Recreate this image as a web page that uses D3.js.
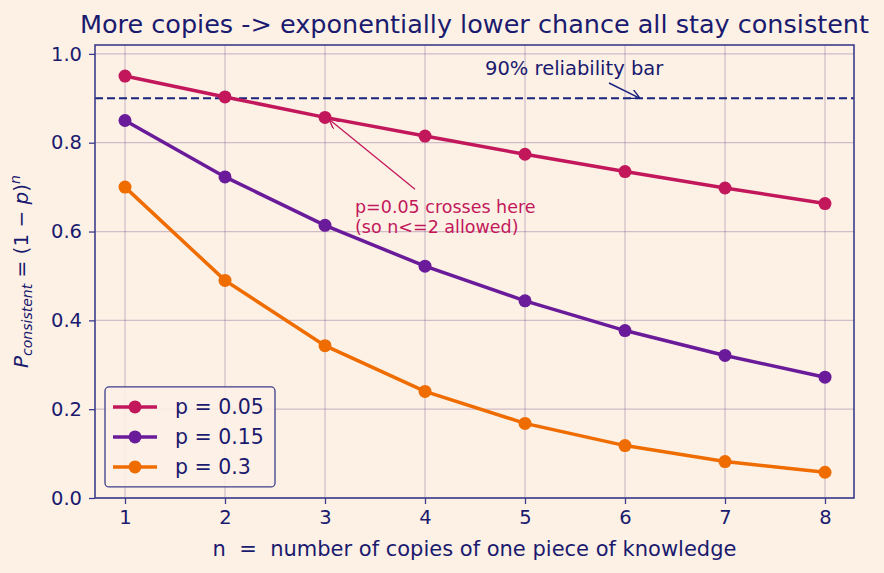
<!DOCTYPE html>
<html>
<head>
<meta charset="utf-8">
<script src="https://cdn.jsdelivr.net/npm/d3@7"></script>
<style>
  body { margin: 0; background: #fdf1e6; }
  svg { display: block; font-family: "DejaVu Sans", sans-serif; }
</style>
</head>
<body>
<div id="chart"></div>
<script>
// data
var copies = [1, 2, 3, 4, 5, 6, 7, 8];
var p005 = [0.950, 0.903, 0.857, 0.815, 0.774, 0.735, 0.698, 0.663];
var p015 = [0.850, 0.723, 0.614, 0.522, 0.444, 0.377, 0.321, 0.272];
var p03  = [0.700, 0.490, 0.343, 0.240, 0.168, 0.118, 0.082, 0.058];
var seriesNames = ["p = 0.05", "p = 0.15", "p = 0.3"];
var yTicks = [0, 0.2, 0.4, 0.6, 0.8, 1.0];
var bar = 0.9;

var W = 884, H = 573;
var margin = { top: 45, right: 30, bottom: 75, left: 95 },
    width = W - margin.left - margin.right,
    height = H - margin.top - margin.bottom;

var ink = "#1a1a6e", spine = "#3c3c8c";
var colors = ["#c2185b", "#6a1b9a", "#ef6c00"];
var series = [p005, p015, p03];

var svg = d3.select("#chart").append("svg")
    .attr("width", W).attr("height", H);
svg.append("rect").attr("width", W).attr("height", H).attr("fill", "#fdf1e6");

var g = svg.append("g")
    .attr("transform", "translate(" + margin.left + "," + margin.top + ")");

var x = d3.scaleLinear().domain([0.7, 8.29]).range([0, width]);
var y = d3.scaleLinear().domain([0, 1.02]).range([height, 0]);

// grid
g.append("g").selectAll("line").data(copies).enter().append("line")
    .attr("x1", d => x(d)).attr("x2", d => x(d))
    .attr("y1", 0).attr("y2", height)
    .attr("stroke", "#7a5a8e").attr("stroke-opacity", 0.35).attr("stroke-width", 1.2);
g.append("g").selectAll("line").data(yTicks).enter().append("line")
    .attr("y1", d => y(d)).attr("y2", d => y(d))
    .attr("x1", 0).attr("x2", width)
    .attr("stroke", "#7a5a8e").attr("stroke-opacity", 0.35).attr("stroke-width", 1.2);

// axes
var xAxis = g.append("g")
    .attr("transform", "translate(0," + height + ")")
    .call(d3.axisBottom(x).tickValues(copies).tickFormat(d3.format("d")).tickSizeOuter(0).tickSize(6).tickPadding(6));
var yAxis = g.append("g")
    .call(d3.axisLeft(y).tickValues(yTicks).tickFormat(d3.format(".1f")).tickSizeOuter(0).tickSize(6).tickPadding(7));
[xAxis, yAxis].forEach(a => {
    a.select(".domain").remove();
    a.selectAll(".tick line").attr("stroke", spine).attr("stroke-width", 1.3);
    a.selectAll(".tick text").attr("fill", ink).style("font-size", "19.5px")
        .style("font-family", "DejaVu Sans");
});

// dashed 90% line
g.append("line")
    .attr("x1", 0).attr("x2", width)
    .attr("y1", y(bar)).attr("y2", y(bar))
    .attr("stroke", "#1a237e").attr("stroke-width", 2)
    .attr("stroke-dasharray", "8,4");

// series
var line = d3.line().x((d, i) => x(copies[i])).y(d => y(d));
series.forEach((s, k) => {
    g.append("path").datum(s)
        .attr("d", line).attr("fill", "none")
        .attr("stroke", colors[k]).attr("stroke-width", 3.5);
    g.append("g").selectAll("circle").data(s).enter().append("circle")
        .attr("cx", (d, i) => x(copies[i])).attr("cy", d => y(d))
        .attr("r", 6.5).attr("fill", colors[k]);
});

// arrows
var defs = svg.append("defs");
function arrowHead(id, col) {
    defs.append("marker").attr("id", id)
        .attr("viewBox", "0 0 10 10").attr("refX", 10).attr("refY", 5)
        .attr("markerWidth", 10).attr("markerHeight", 10)
        .attr("markerUnits", "userSpaceOnUse")
        .attr("orient", "auto")
        .append("path").attr("d", "M0,0 L10,5 L0,10")
        .attr("fill", "none").attr("stroke", col).attr("stroke-width", 1.4);
}
arrowHead("ah1", "#1a237e");
arrowHead("ah2", colors[0]);

g.append("text").attr("x", x(4.6)).attr("y", 30)
    .attr("fill", ink).style("font-size", "19.5px").text("90% reliability bar");
g.append("line")
    .attr("x1", x(5.84)).attr("y1", 38).attr("x2", x(6.15)).attr("y2", y(bar))
    .attr("stroke", "#1a237e").attr("stroke-width", 1.4).attr("marker-end", "url(#ah1)");

g.append("line")
    .attr("x1", x(3.9)).attr("y1", y(0.695)).attr("x2", x(3.04)).attr("y2", y(0.853))
    .attr("stroke", colors[0]).attr("stroke-width", 1.3).attr("marker-end", "url(#ah2)");
var ann = g.append("text").attr("fill", colors[0]).style("font-size", "17.5px");
ann.append("tspan").attr("x", x(3.3)).attr("y", y(0.642)).text("p=0.05 crosses here");
ann.append("tspan").attr("x", x(3.3)).attr("y", y(0.597)).text("(so n<=2 allowed)");

// frame
g.append("rect").attr("width", width).attr("height", height)
    .attr("fill", "none").attr("stroke", spine).attr("stroke-width", 1.6);

// title
svg.append("text")
    .attr("x", margin.left + width / 2).attr("y", 33)
    .attr("text-anchor", "middle").attr("fill", ink)
    .style("font-size", "25.5px")
    .text("More copies -> exponentially lower chance all stay consistent");

// x label
svg.append("text")
    .attr("x", margin.left + width / 2).attr("y", 556)
    .attr("text-anchor", "middle").attr("fill", ink)
    .style("font-size", "21px").style("white-space", "pre")
    .text("n  =  number of copies of one piece of knowledge");

// y label (math text)
var yl = svg.append("text")
    .attr("transform", "translate(28," + (margin.top + height / 2) + ") rotate(-90)")
    .attr("text-anchor", "middle").attr("fill", ink)
    .style("font-size", "20px").style("white-space", "pre");
yl.append("tspan").style("font-style", "italic").text("P");
yl.append("tspan").style("font-style", "italic").style("font-size", "14px").attr("dy", 4).text("consistent");
yl.append("tspan").attr("dy", -4).text(" = (1 \u2212 ");
yl.append("tspan").style("font-style", "italic").text("p");
yl.append("tspan").text(")");
yl.append("tspan").style("font-style", "italic").style("font-size", "14px").attr("dy", -8).text("n");

// legend
var leg = g.append("g").attr("transform", "translate(" + (x(0.8)) + "," + (y(0.25)) + ")");
leg.append("rect").attr("width", 170).attr("height", 100).attr("rx", 4)
    .attr("fill", "#fdf1e6").attr("fill-opacity", 0.85)
    .attr("stroke", spine).attr("stroke-width", 1.3);
seriesNames.forEach((name, k) => {
    var yy = 20 + k * 30;
    leg.append("line").attr("x1", 8).attr("x2", 52).attr("y1", yy).attr("y2", yy)
        .attr("stroke", colors[k]).attr("stroke-width", 3.5);
    leg.append("circle").attr("cx", 30).attr("cy", yy).attr("r", 6.5).attr("fill", colors[k]);
    leg.append("text").attr("x", 70).attr("y", yy + 7).attr("fill", ink)
        .style("font-size", "20.5px").text(name);
});
</script>
</body>
</html>
